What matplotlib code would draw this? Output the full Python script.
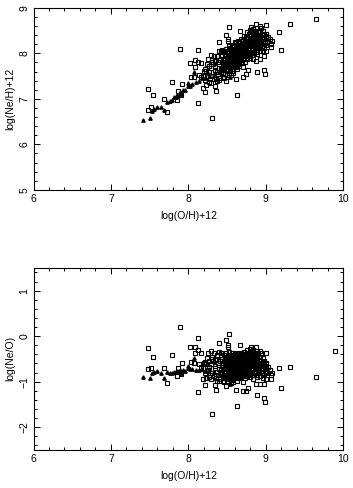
import matplotlib
matplotlib.use('Agg')
import matplotlib.pyplot as plt
import numpy as np
from matplotlib.ticker import MultipleLocator

plt.rcParams['font.family'] = ['Liberation Sans', 'DejaVu Sans']

# open squares: log(O/H)+12 and log(Ne/O)
oh_sq = [
    7.48, 7.55, 7.48, 7.52, 7.69, 7.73, 7.79, 7.92, 7.89, 7.85, 7.87, 7.91,
    8.12, 8.02, 8.09, 8.13, 8.30, 8.21, 8.36, 8.35, 8.40, 8.49, 8.52, 8.51,
    8.51, 8.63, 8.67, 8.62, 8.70, 8.75, 8.77, 8.89, 8.99, 8.98, 8.92, 8.98,
    8.88, 9.17, 9.32, 9.20, 9.65, 9.90, 9.07, 9.07, 9.00, 9.00, 8.93, 8.88,
    8.81, 9.01, 9.06, 8.23, 8.19, 8.27, 8.12, 8.08, 8.16, 8.04, 8.07, 8.14,
    8.17, 8.21, 8.25, 8.29, 8.31, 8.35, 8.42, 8.37, 8.49, 8.55, 8.57, 8.45,
    9.08, 9.00,
    8.301, 8.292, 8.311, 8.296,
    8.331, 8.322, 8.341, 8.326,
    8.362, 8.351, 8.370, 8.356, 8.367,
    8.391, 8.382, 8.399, 8.386, 8.395,
    8.421, 8.412, 8.430, 8.416, 8.427, 8.408,
    8.441, 8.432, 8.450, 8.436, 8.447,
    8.461, 8.452, 8.470, 8.456, 8.467, 8.449, 8.465,
    8.481, 8.472, 8.490, 8.476, 8.487, 8.469, 8.485, 8.475,
    8.501, 8.492, 8.510, 8.496, 8.507, 8.489, 8.505, 8.495,
    8.521, 8.512, 8.530, 8.516, 8.527, 8.509, 8.525, 8.515, 8.520,
    8.541, 8.532, 8.550, 8.536, 8.547, 8.529, 8.545, 8.535, 8.540,
    8.561, 8.552, 8.570, 8.556, 8.567, 8.549, 8.565, 8.555, 8.560, 8.571,
    8.581, 8.572, 8.590, 8.576, 8.587, 8.569, 8.585, 8.575, 8.580,
    8.601, 8.592, 8.610, 8.596, 8.607, 8.589, 8.605, 8.595, 8.600, 8.611,
    8.621, 8.612, 8.630, 8.616, 8.627, 8.609, 8.625, 8.615, 8.620, 8.631,
    8.641, 8.632, 8.650, 8.636, 8.647, 8.629, 8.645, 8.635, 8.640,
    8.661, 8.652, 8.670, 8.656, 8.667, 8.649, 8.665, 8.655, 8.660,
    8.681, 8.672, 8.690, 8.676, 8.687, 8.669, 8.685, 8.675, 8.680,
    8.701, 8.692, 8.710, 8.696, 8.707, 8.689, 8.705, 8.695, 8.700,
    8.721, 8.712, 8.730, 8.716, 8.727, 8.709, 8.725, 8.715,
    8.741, 8.732, 8.750, 8.736, 8.747, 8.729, 8.745, 8.735,
    8.761, 8.752, 8.770, 8.756, 8.767, 8.749, 8.765, 8.755,
    8.781, 8.772, 8.790, 8.776, 8.787, 8.769, 8.785,
    8.801, 8.792, 8.810, 8.796, 8.807, 8.789, 8.805, 8.795,
    8.821, 8.812, 8.830, 8.816, 8.827, 8.809, 8.825,
    8.841, 8.832, 8.850, 8.836, 8.847, 8.829, 8.845, 8.835,
    8.861, 8.852, 8.870, 8.856, 8.867, 8.849,
    8.881, 8.872, 8.890, 8.876, 8.887, 8.869, 8.885,
    8.901, 8.892, 8.910, 8.896, 8.907, 8.889,
    8.921, 8.912, 8.930, 8.916, 8.927,
    8.941, 8.932, 8.950, 8.936, 8.947,
    8.961, 8.952, 8.970, 8.956, 8.967,
    8.981, 8.972, 8.990, 8.976,
    9.001, 8.992, 9.010,
    9.031, 9.022,
    8.271, 8.262, 8.280,
    8.241, 8.232, 8.250,
    8.201, 8.192, 8.210,
]
neo_sq = [
    -0.26, -0.46, -0.72, -0.69, -0.70, -1.03, -0.41, -0.59, 0.20, -0.87, -0.70, -0.83,
    -0.04, -0.24, -0.24, -1.22, -1.72, -1.07, -1.18, -1.07, -0.15, -0.08, 0.05, -0.19,
    -0.24, -1.54, -0.19, -1.18, -1.21, -1.21, -1.13, -1.30, -1.45, -1.35, -1.05, -1.05,
    -1.05, -0.70, -0.68, -1.13, -0.90, -0.32, -0.94, -0.86, -0.94, -0.37, -0.33, -0.24,
    -0.24, -0.59, -0.75, -0.92, -0.95, -0.90, -0.30, -0.37, -0.37, -0.57, -0.58, -0.62,
    -0.68, -0.56, -0.37, -0.33, -0.50, -0.52, -0.36, -0.98, -1.10, -1.03, -0.96, -0.98,
    -0.80, -0.65,
    -0.45, -0.62, -0.80, -0.95,
    -0.38, -0.55, -0.70, -0.88,
    -0.50, -0.66, -0.78, -0.92, -0.42,
    -0.35, -0.58, -0.72, -0.85, -0.98,
    -0.45, -0.55, -0.63, -0.75, -0.83, -0.95,
    -0.36, -0.50, -0.68, -0.78, -0.90,
    -0.42, -0.58, -0.65, -0.72, -0.82, -0.88, -1.00,
    -0.38, -0.48, -0.55, -0.62, -0.70, -0.77, -0.85, -0.93,
    -0.45, -0.52, -0.60, -0.67, -0.74, -0.80, -0.90, -0.98,
    -0.35, -0.50, -0.57, -0.64, -0.70, -0.76, -0.83, -0.88, -0.95,
    -0.42, -0.48, -0.55, -0.62, -0.68, -0.73, -0.80, -0.86, -0.92,
    -0.38, -0.46, -0.53, -0.60, -0.66, -0.71, -0.78, -0.84, -0.90, -1.00,
    -0.44, -0.50, -0.57, -0.63, -0.69, -0.75, -0.81, -0.88, -0.96,
    -0.36, -0.42, -0.48, -0.55, -0.61, -0.67, -0.73, -0.79, -0.85, -0.92,
    -0.40, -0.46, -0.52, -0.58, -0.64, -0.70, -0.76, -0.82, -0.90, -0.98,
    -0.38, -0.44, -0.50, -0.56, -0.62, -0.68, -0.74, -0.80, -0.87,
    -0.42, -0.48, -0.54, -0.60, -0.66, -0.72, -0.78, -0.84, -0.93,
    -0.36, -0.45, -0.52, -0.58, -0.64, -0.70, -0.76, -0.82, -0.90,
    -0.40, -0.47, -0.55, -0.62, -0.68, -0.74, -0.80, -0.88, -1.00,
    -0.34, -0.44, -0.50, -0.57, -0.63, -0.70, -0.77, -0.85,
    -0.39, -0.48, -0.55, -0.61, -0.67, -0.73, -0.80, -0.92,
    -0.30, -0.42, -0.50, -0.58, -0.65, -0.72, -0.82, -0.88,
    -0.36, -0.45, -0.53, -0.60, -0.68, -0.76, -0.84,
    -0.28, -0.40, -0.48, -0.56, -0.64, -0.72, -0.80, -0.90,
    -0.35, -0.44, -0.52, -0.60, -0.70, -0.78, -0.86,
    -0.30, -0.42, -0.50, -0.58, -0.66, -0.74, -0.82, -0.95,
    -0.38, -0.46, -0.55, -0.64, -0.72, -0.85,
    -0.32, -0.44, -0.52, -0.62, -0.70, -0.80, -0.90,
    -0.40, -0.50, -0.58, -0.68, -0.78, -0.86,
    -0.45, -0.55, -0.65, -0.75, -0.88,
    -0.38, -0.52, -0.62, -0.72, -0.82,
    -0.48, -0.60, -0.70, -0.80, -0.92,
    -0.55, -0.66, -0.76, -0.85,
    -0.62, -0.72, -0.82,
    -0.68, -0.78,
    -0.55, -0.68, -0.85,
    -0.48, -0.62, -0.75,
    -0.60, -0.70, -0.80,
]

# filled triangles
oh_tri = [7.42, 7.50, 7.53, 7.56, 7.59, 7.65, 7.68, 7.72, 7.76, 7.79,
          7.82, 7.84, 7.86, 7.89, 7.91, 7.93, 7.96, 7.99, 8.00, 8.02,
          8.05, 8.07, 8.10, 8.14, 8.18, 8.22, 8.27, 8.33, 8.40, 8.54]
neo_tri = [-0.89, -0.92, -0.80, -0.78, -0.76, -0.82, -0.92, -0.78, -0.80, -0.82,
           -0.78, -0.79, -0.77, -0.75, -0.80, -0.74, -0.76, -0.70, -0.66, -0.73,
           -0.72, -0.48, -0.74, -0.75, -0.73, -0.76, -0.72, -0.78, -0.80, -1.05]

oh_sq = np.array(oh_sq)
neo_sq = np.array(neo_sq)
oh_tri = np.array(oh_tri)
neo_tri = np.array(neo_tri)
# log(Ne/H) = log(Ne/O) + log(O/H)
neh_sq = oh_sq + neo_sq
neh_tri = oh_tri + neo_tri

fig = plt.figure(figsize=(3.53, 4.88), dpi=100)
ax1 = fig.add_axes([0.095, 0.611, 0.877, 0.373])
ax2 = fig.add_axes([0.095, 0.078, 0.877, 0.373])


def style(ax, ylab, ylim):
    ax.set_xlim(6, 10)
    ax.set_ylim(*ylim)
    ax.xaxis.set_major_locator(MultipleLocator(1))
    ax.xaxis.set_minor_locator(MultipleLocator(0.2))
    ax.yaxis.set_major_locator(MultipleLocator(1))
    ax.yaxis.set_minor_locator(MultipleLocator(0.2))
    ax.tick_params(which='both', direction='in', top=True, right=True,
                   labelsize=7.5, width=0.7, pad=3)
    ax.tick_params(which='major', length=4.5)
    ax.tick_params(which='minor', length=2.2)
    for lab in ax.get_yticklabels():
        lab.set_rotation(90)
        lab.set_va('center')
    for s in ax.spines.values():
        s.set_linewidth(0.8)
    ax.set_xlabel('log(O/H)+12', fontsize=7.5, labelpad=5)
    ax.set_ylabel(ylab, fontsize=7.5, labelpad=3)


ax1.plot(oh_sq, neh_sq, 's', ms=3.3, mfc='none', mec='black', mew=0.8)
ax1.plot(oh_tri, neh_tri, '^', ms=2.4, color='black')
style(ax1, 'log(Ne/H)+12', (5, 9))

ax2.plot(oh_sq, neo_sq, 's', ms=3.3, mfc='none', mec='black', mew=0.8)
ax2.plot(oh_tri, neo_tri, '^', ms=2.4, color='black')
style(ax2, 'log(Ne/O)', (-2.5, 1.5))

fig.savefig('out.png', dpi=100)
